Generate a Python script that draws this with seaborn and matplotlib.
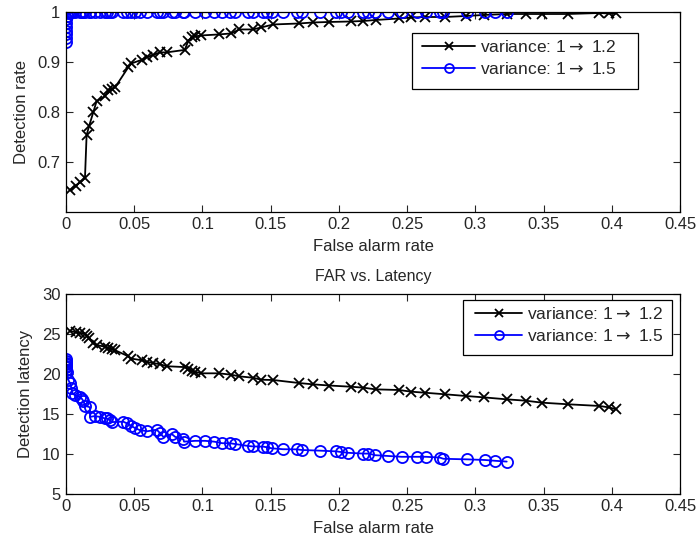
import numpy as np
import pandas as pd
import matplotlib
matplotlib.use("Agg")
import matplotlib.pyplot as plt
from matplotlib.patches import Rectangle
import seaborn as sns

# ---- data: variance 1 -> 1.2 (black) ----
far_12 = [0.003, 0.007, 0.0105, 0.0139, 0.0151, 0.017, 0.020, 0.0224, 0.0285, 0.031,
          0.034, 0.036, 0.0456, 0.048, 0.0554, 0.059, 0.064, 0.0688, 0.0737, 0.087,
          0.0895, 0.092, 0.0944, 0.0993, 0.112, 0.121, 0.127, 0.137, 0.143, 0.152,
          0.171, 0.181, 0.193, 0.209, 0.218, 0.227, 0.244, 0.253, 0.263, 0.278,
          0.293, 0.306, 0.323, 0.337, 0.349, 0.368, 0.391, 0.398, 0.403]
dr_12 = [0.643, 0.652, 0.659, 0.667, 0.753, 0.772, 0.799, 0.821, 0.831, 0.843,
         0.846, 0.849, 0.889, 0.897, 0.904, 0.909, 0.914, 0.919, 0.919, 0.924,
         0.941, 0.949, 0.951, 0.953, 0.955, 0.957, 0.965, 0.965, 0.969, 0.975,
         0.977, 0.979, 0.980, 0.981, 0.982, 0.984, 0.987, 0.989, 0.990, 0.990,
         0.992, 0.994, 0.996, 0.996, 0.996, 0.996, 0.998, 0.997, 0.997]
lat_12 = [25.37, 25.2, 25.1, 25.0, 24.7, 24.5, 23.8, 23.6, 23.4, 23.2,
          23.05, 22.95, 22.2, 21.9, 21.7, 21.5, 21.35, 21.2, 20.95, 20.84,
          20.6, 20.4, 20.26, 20.06, 20.06, 19.89, 19.68, 19.51, 19.26, 19.22,
          18.84, 18.68, 18.53, 18.38, 18.26, 18.05, 17.97, 17.76, 17.63, 17.43,
          17.22, 17.05, 16.80, 16.63, 16.38, 16.18, 15.97, 15.79, 15.55]

# ---- data: variance 1 -> 1.5 (blue) ----
far_15 = [0.0, 0.0, 0.0, 0.0, 0.0, 0.0, 0.0, 0.0005, 0.0018, 0.003,
          0.004, 0.0045, 0.0066, 0.010, 0.0115, 0.0127, 0.014, 0.0176, 0.0176, 0.021,
          0.025, 0.0286, 0.030, 0.032, 0.0335, 0.042, 0.0445, 0.048, 0.0506, 0.054,
          0.0596, 0.0665, 0.069, 0.0713, 0.0775, 0.080, 0.086, 0.0865, 0.0946, 0.102,
          0.1085, 0.1146, 0.120, 0.124, 0.1337, 0.137, 0.1447, 0.147, 0.151, 0.159,
          0.169, 0.173, 0.186, 0.198, 0.2015, 0.2067, 0.218, 0.2217, 0.2266, 0.2363,
          0.246, 0.257, 0.264, 0.274, 0.2766, 0.2936, 0.307, 0.3145, 0.323]
dr_15 = [0.940, 0.948, 0.955, 0.962, 0.970, 0.978, 0.985, 0.992, 0.997, 1.0,
         1.0, 1.0, 1.0, 1.0, 1.0, 1.0, 1.0, 1.0, 1.0, 1.0,
         1.0, 1.0, 1.0, 1.0, 1.0, 1.0, 1.0, 1.0, 1.0, 1.0,
         1.0, 1.0, 1.0, 1.0, 1.0, 1.0, 1.0, 1.0, 1.0, 1.0,
         1.0, 1.0, 1.0, 1.0, 1.0, 1.0, 1.0, 1.0, 1.0, 1.0,
         1.0, 1.0, 1.0, 1.0, 1.0, 1.0, 1.0, 1.0, 1.0, 1.0,
         1.0, 1.0, 1.0, 1.0, 1.0, 1.0, 1.0, 1.0, 1.0]
lat_15 = [21.8, 21.6, 21.4, 21.2, 21.0, 20.8, 20.5, 20.2, 19.2, 18.8,
          18.2, 17.6, 17.3, 17.1, 16.9, 16.6, 16.0, 15.8, 14.6, 14.7,
          14.6, 14.4, 14.4, 14.2, 13.95, 14.0, 13.8, 13.45, 13.2, 12.95,
          12.8, 13.0, 12.55, 12.1, 12.45, 12.1, 11.8, 11.5, 11.6, 11.6,
          11.5, 11.3, 11.3, 11.2, 10.95, 10.9, 10.87, 10.8, 10.66, 10.55,
          10.53, 10.45, 10.37, 10.28, 10.2, 10.1, 10.0, 10.0, 9.8, 9.7,
          9.6, 9.6, 9.6, 9.5, 9.35, 9.28, 9.2, 9.1, 9.0]

label_12 = r"variance: 1$\rightarrow$ 1.2"
label_15 = r"variance: 1$\rightarrow$ 1.5"
x_ticks = [0, 0.05, 0.1, 0.15, 0.2, 0.25, 0.3, 0.35, 0.4, 0.45]
x_ticklabels = ["0", "0.05", "0.1", "0.15", "0.2", "0.25", "0.3", "0.35", "0.4", "0.45"]

sns.set_style("ticks")
plt.rcParams["font.family"] = ["Liberation Sans", "DejaVu Sans"]
plt.rcParams["font.size"] = 12
plt.rcParams["axes.linewidth"] = 0.9
plt.rcParams["mathtext.fontset"] = "dejavusans"

df12 = pd.DataFrame({"far": far_12, "dr": dr_12, "lat": lat_12})
df15 = pd.DataFrame({"far": far_15, "dr": dr_15, "lat": lat_15})

fig = plt.figure(figsize=(6.97, 5.42), dpi=100)
W, H = 697, 542
def axes_at(l, t, r, b):
    return fig.add_axes([l / W, 1 - b / H, (r - l) / W, (b - t) / H])

ax1 = axes_at(66, 12, 680, 211.5)
ax2 = axes_at(66, 294, 680, 493.5)

common12 = dict(color="black", marker="x", markersize=6.5, markeredgewidth=1.3,
                markeredgecolor="black", linewidth=1.3, sort=False, estimator=None)
common15 = dict(color="blue", marker="o", markersize=8, markerfacecolor="none",
                markeredgecolor="blue", markeredgewidth=1.3, linewidth=1.3,
                sort=False, estimator=None)

sns.lineplot(data=df12, x="far", y="dr", ax=ax1, label=label_12, **common12)
sns.lineplot(data=df15, x="far", y="dr", ax=ax1, label=label_15, **common15)
sns.lineplot(data=df12, x="far", y="lat", ax=ax2, label=label_12, **common12)
sns.lineplot(data=df15, x="far", y="lat", ax=ax2, label=label_15, **common15)

for ax in (ax1, ax2):
    ax.set_xlim(0, 0.45)
    ax.set_xticks(x_ticks)
    ax.set_xticklabels(x_ticklabels)
    ax.tick_params(direction="in", top=True, right=True, length=5, width=0.8,
                   labelsize=12, pad=4)
    ax.set_xlabel("False alarm rate", fontsize=12, labelpad=5)
    for s in ax.spines.values():
        s.set_visible(True)
        s.set_color("black")

ax1.set_ylim(0.6, 1.0)
ax1.set_yticks([0.7, 0.8, 0.9, 1.0])
ax1.set_yticklabels(["0.7", "0.8", "0.9", "1"])
ax1.set_ylabel("Detection rate", fontsize=12, labelpad=6)

ax2.set_ylim(5, 30)
ax2.set_yticks([5, 10, 15, 20, 25, 30])
ax2.set_yticklabels(["5", "10", "15", "20", "25", "30"])
ax2.set_ylabel("Detection latency", fontsize=12, labelpad=6)
ax2.set_title("FAR vs. Latency", fontsize=11.5, pad=9)

LEG_FS = 12.5
FS_PX = LEG_FS * 100 / 72.0

def matlab_legend(ax, handle_x, top_y, handle_len_px, box):
    leg = ax.legend(loc="upper left", bbox_to_anchor=(handle_x / W, 1 - top_y / H),
                    bbox_transform=fig.transFigure, frameon=False, borderpad=0,
                    borderaxespad=0, fontsize=LEG_FS,
                    handlelength=handle_len_px / FS_PX, labelspacing=0.33,
                    handletextpad=0.3)
    for h in leg.legend_handles:
        h.set_markersize(h.get_markersize() * 0.8)
    l, t, r, b = box
    ax.add_patch(Rectangle((l / W, 1 - b / H), (r - l) / W, (b - t) / H,
                           transform=fig.transFigure, facecolor="white",
                           edgecolor="black", linewidth=0.9, zorder=4,
                           clip_on=False))
    return leg

matlab_legend(ax1, 422, 39, 53, (412, 33, 638, 89))
matlab_legend(ax2, 475, 306, 47, (463, 300, 672, 355))

fig.savefig("out.png", dpi=100)
